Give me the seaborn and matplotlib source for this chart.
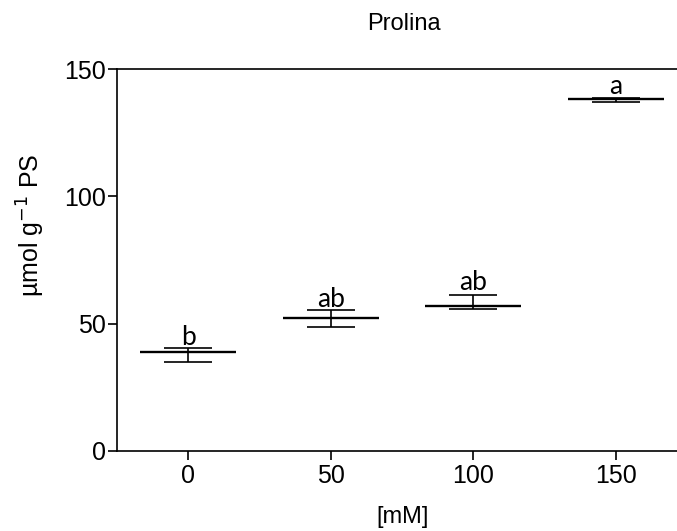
import numpy as np
import pandas as pd
import matplotlib
matplotlib.use("Agg")
import matplotlib.pyplot as plt
import seaborn as sns

# values (µmol g-1 PS)
doses = ["0", "50", "100", "150"]
means = [38.9, 52.1, 57.0, 138.4]
lower = [34.9, 48.6, 55.8, 137.1]
upper = [40.5, 55.2, 61.1, 138.6]
letters = ["b", "ab", "ab", "a"]
letter_y = [41.6, 56.6, 63.4, 140.2]

df = pd.DataFrame({"dose": doses, "mean": means})

sns.set_style("ticks")
plt.rcParams["font.family"] = ["Liberation Sans", "DejaVu Sans"]
plt.rcParams["text.color"] = "black"
plt.rcParams["axes.labelcolor"] = "black"
plt.rcParams["xtick.color"] = "black"
plt.rcParams["ytick.color"] = "black"

fig = plt.figure(figsize=(6.77, 5.31), dpi=100)
ax = fig.add_axes([0.1728, 0.1512, 0.8272, 0.7183])

# mean lines
sns.scatterplot(data=df, x="dose", y="mean", marker="_", s=69.8 ** 2,
                linewidth=1.7, color="black", ax=ax, zorder=3)

# error bars
pos = np.arange(len(doses))
m = np.array(means)
ax.errorbar(pos, m, yerr=[m - np.array(lower), np.array(upper) - m],
            fmt="none", ecolor="black", elinewidth=1.2, capsize=17.6,
            capthick=1.2, zorder=2)

# significance letters
for i, (lab, yy) in enumerate(zip(letters, letter_y)):
    ax.text(i, yy, lab, ha="center", va="baseline", fontsize=19,
            family=["Lato", "DejaVu Sans"], color="black")

ax.set_xlim(-0.5, 3.43)
ax.set_ylim(0, 150)
ax.set_yticks([0, 50, 100, 150])
ax.set_xticks(pos)
ax.set_xticklabels(doses)

for side in ["left", "bottom", "top"]:
    ax.spines[side].set_linewidth(1.2)
    ax.spines[side].set_color("black")
ax.spines["right"].set_visible(False)

ax.tick_params(axis="both", length=6.5, width=1.2, labelsize=18, color="black",
               labelcolor="black")
ax.tick_params(axis="y", pad=1.5)
ax.tick_params(axis="x", pad=3)

ax.set_xlabel("[mM]", fontsize=17)
ax.xaxis.set_label_coords((403 - 117) / 560, -0.145)
ax.set_ylabel("µmol g$^{-1}$ PS", fontsize=18)
ax.yaxis.set_label_coords(-0.125, 0.59)

ax.set_title("Prolina", fontsize=17, x=(404 - 117) / 560, y=1.103, pad=0)

fig.savefig("out.png", dpi=100)
